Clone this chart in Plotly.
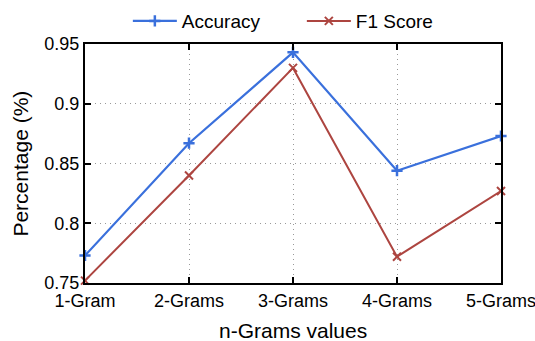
import plotly.graph_objects as go

categories = ["1-Gram", "2-Grams", "3-Grams", "4-Grams", "5-Grams"]
accuracy = [0.773, 0.867, 0.943, 0.844, 0.873]
f1_score = [0.752, 0.840, 0.930, 0.772, 0.827]

blue = "#3a70dc"
red = "#ad4540"
font = "Liberation Sans"

fig = go.Figure()
fig.add_trace(go.Scatter(
    x=categories, y=accuracy, name="Accuracy", mode="lines+markers",
    line=dict(color=blue, width=2.2),
    marker=dict(symbol="cross-thin", size=8, line=dict(color=blue, width=2.5)),
    cliponaxis=False,
))
fig.add_trace(go.Scatter(
    x=categories, y=f1_score, name="F1 Score", mode="lines+markers",
    line=dict(color=red, width=2),
    marker=dict(symbol="x-thin", size=8, line=dict(color=red, width=2)),
    cliponaxis=False,
))

axis_common = dict(
    showline=True, linecolor="black", linewidth=2, mirror="ticks",
    ticks="inside", ticklen=6, tickwidth=1.5, tickcolor="black",
    showgrid=True, gridcolor="#999999", griddash="1px,4px", gridwidth=1,
    zeroline=False, automargin=False,
    tickfont=dict(family=font, size=18, color="black"),
)

fig.update_layout(
    width=535, height=341,
    margin=dict(l=85, r=34, t=44, b=58, autoexpand=False),
    plot_bgcolor="white", paper_bgcolor="white",
    font=dict(family=font, color="black"),
    showlegend=True,
    legend=dict(orientation="h", x=0.103, xanchor="left", y=1.096, yanchor="middle",
                font=dict(family=font, size=19), bgcolor="rgba(0,0,0,0)",
                itemwidth=44, entrywidth=115, entrywidthmode="pixels", tracegroupgap=0),
    xaxis=dict(type="category", range=[0, 4], **axis_common),
    yaxis=dict(range=[0.75, 0.95], dtick=0.05, tick0=0.75, **axis_common),
    annotations=[
        dict(text="n-Grams values", xref="paper", yref="paper", x=0.5, y=-0.197,
             xanchor="center", yanchor="middle", showarrow=False,
             font=dict(family=font, size=21, color="black")),
        dict(text="Percentage (%)", xref="paper", yref="paper", x=-0.156, y=0.5,
             xanchor="center", yanchor="middle", textangle=-90, showarrow=False,
             font=dict(family=font, size=21, color="black")),
    ],
)

fig.write_html("out.html")
